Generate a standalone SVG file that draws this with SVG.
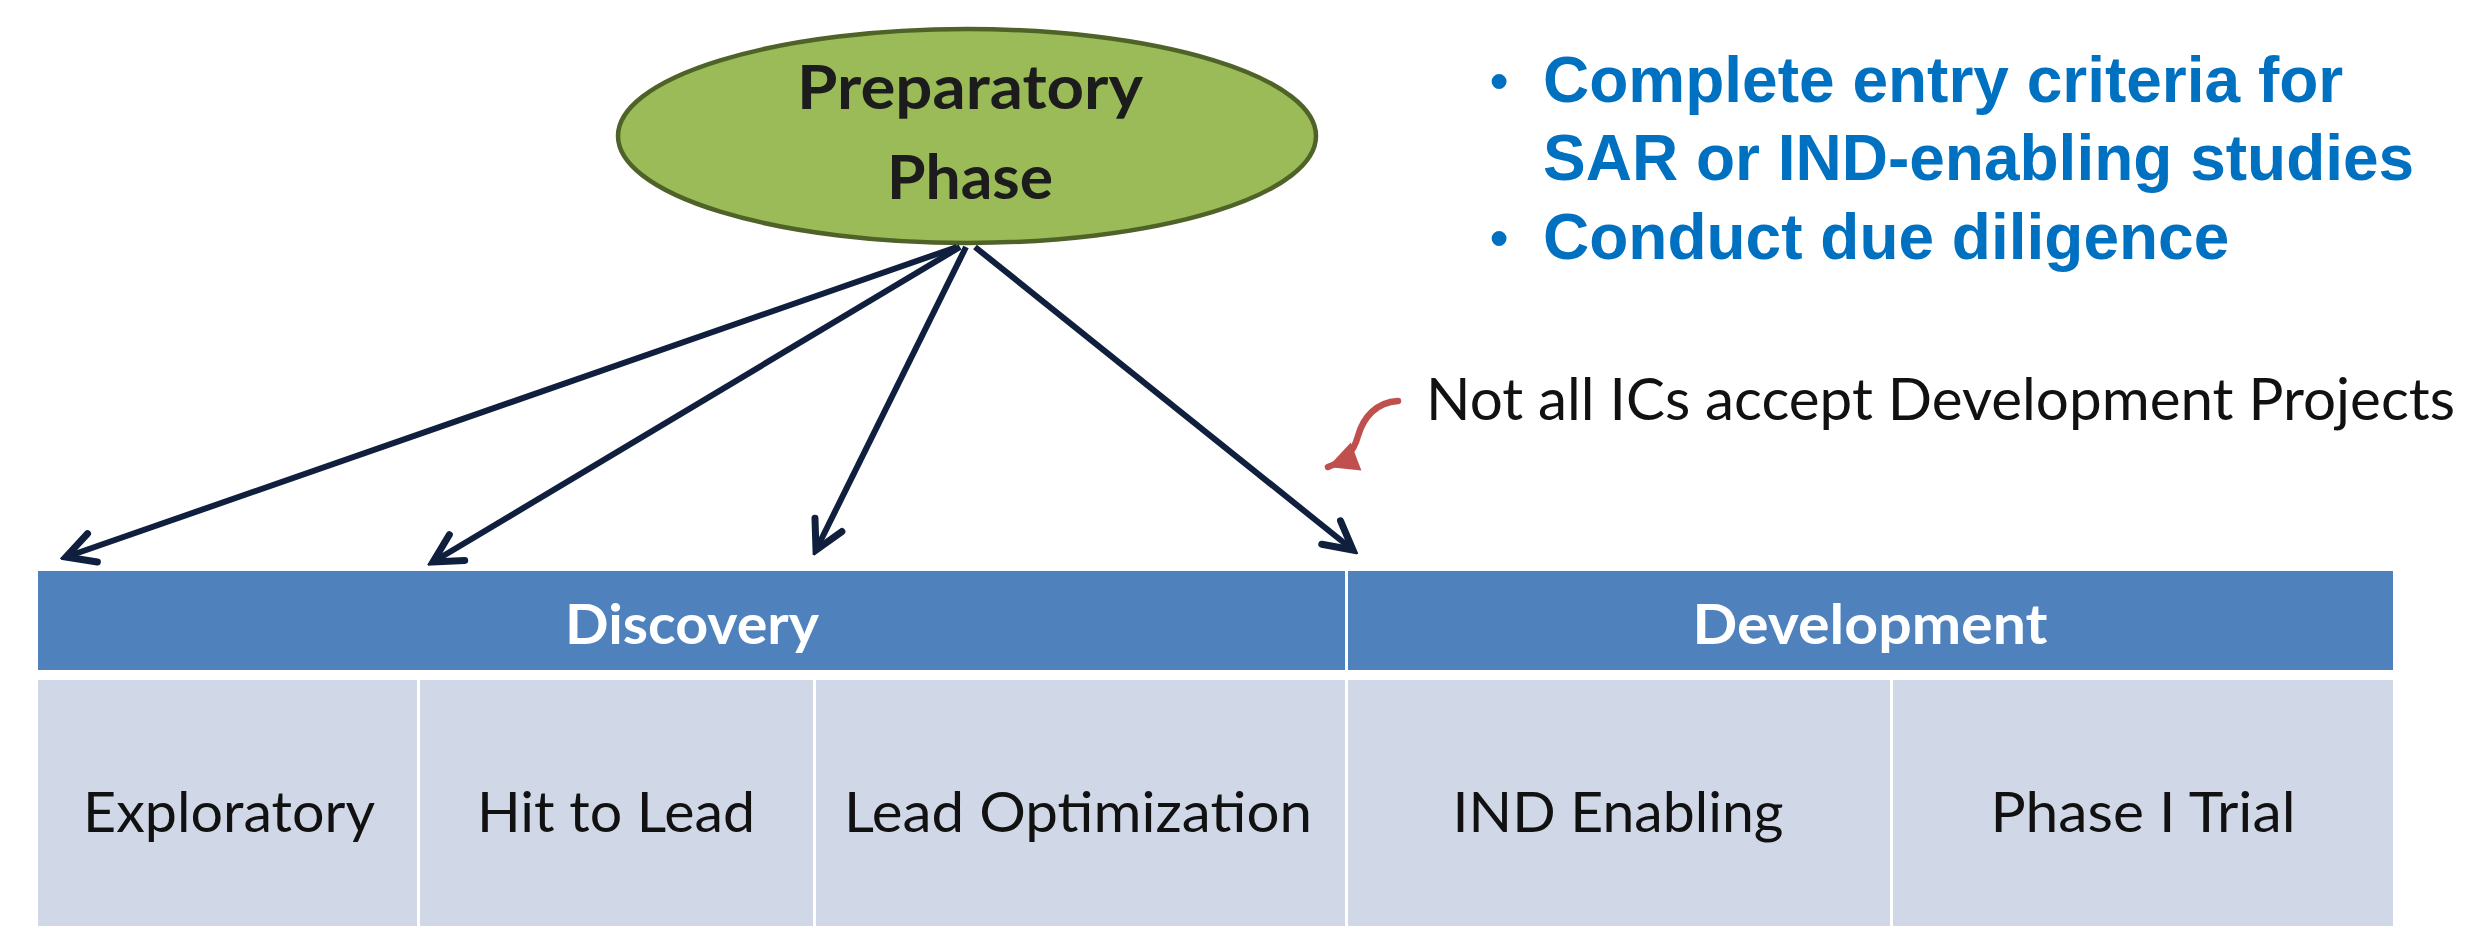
<svg xmlns="http://www.w3.org/2000/svg" width="2465" height="926" viewBox="0 0 2465 926">
  <defs>
    <marker id="openHead" markerUnits="userSpaceOnUse" markerWidth="46" markerHeight="46" viewBox="0 0 46 46" refX="40" refY="23" orient="auto">
      <path d="M12,8 L40,23 L12,38" fill="none" stroke="#0F1F3D" stroke-width="7" stroke-linejoin="miter" stroke-linecap="round"/>
    </marker>
    <marker id="redHead" markerUnits="userSpaceOnUse" markerWidth="36" markerHeight="36" viewBox="0 0 36 36" refX="32" refY="18" orient="auto">
      <path d="M2,3 L32,18 L2,33 Z" fill="#C0504D"/>
    </marker>
    <style>
      .cal { font-family: Lato, "Open Sans", "Noto Sans", sans-serif; }
      .phase { font-size: 62px; font-weight: 700; fill: #1C1C1C; text-anchor: middle; }
      .head { font-size: 55px; font-weight: 700; fill: #FFFFFF; text-anchor: middle; }
      .cell { font-size: 56px; font-weight: 400; fill: #111111; text-anchor: middle; }
      .note { font-size: 58px; font-weight: 400; fill: #111111; }
      .bullet { font-family: "Liberation Sans", Arial, sans-serif; font-size: 64px; font-weight: 700; fill: #0070C0; }
      .dot { font-family: "Liberation Sans", Arial, sans-serif; font-size: 52px; font-weight: 700; fill: #0070C0; }
      .hdr { fill: #4F81BD; }
      .body { fill: #D0D8E8; }
      .link { stroke: #0F1F3D; stroke-width: 6; fill: none; marker-end: url(#openHead); }
    </style>
  </defs>

  <rect x="0" y="0" width="2465" height="926" fill="#FFFFFF"/>

  <!-- Preparatory phase ellipse -->
  <g id="preparatory">
    <ellipse cx="967" cy="136" rx="349" ry="107" fill="#9BBB59" stroke="#4F6228" stroke-width="4.5"/>
    <text class="cal phase" x="970" y="109" textLength="346" lengthAdjust="spacingAndGlyphs">Preparatory</text>
    <text class="cal phase" x="970" y="199" textLength="166" lengthAdjust="spacingAndGlyphs">Phase</text>
  </g>

  <!-- Goals of the preparatory phase -->
  <g id="goals">
    <text class="dot" x="1490" y="99">•</text>
    <text class="bullet" x="1543" y="102">Complete entry criteria for</text>
    <text class="bullet" x="1543" y="180">SAR or IND-enabling studies</text>
    <text class="dot" x="1490" y="256">•</text>
    <text class="bullet" x="1543" y="259">Conduct due diligence</text>
  </g>

  <!-- Note about development projects -->
  <g id="note">
    <text class="cal note" x="1426" y="420" textLength="1029" lengthAdjust="spacingAndGlyphs">Not all ICs accept Development Projects</text>
    <path d="M1398,401 C1376,402 1363,418 1358,436 C1353,454 1344,461 1328,467" fill="none" stroke="#C0504D" stroke-width="6.5" stroke-linecap="round" marker-end="url(#redHead)"/>
  </g>

  <!-- Stage table: headers -->
  <g id="discovery">
    <rect class="hdr" x="38" y="571" width="1307" height="99"/>
    <text class="cal head" x="692" y="644" textLength="254" lengthAdjust="spacingAndGlyphs">Discovery</text>
  </g>
  <g id="development">
    <rect class="hdr" x="1348" y="571" width="1045" height="99"/>
    <text class="cal head" x="1870" y="644" textLength="355" lengthAdjust="spacingAndGlyphs">Development</text>
  </g>

  <!-- Stage table: stages -->
  <g id="exploratory">
    <rect class="body" x="38" y="680" width="379" height="246"/>
    <text class="cal cell" x="229" y="832" textLength="292" lengthAdjust="spacingAndGlyphs">Exploratory</text>
  </g>
  <g id="hit-to-lead">
    <rect class="body" x="420" y="680" width="393" height="246"/>
    <text class="cal cell" x="616" y="832" textLength="278" lengthAdjust="spacingAndGlyphs">Hit to Lead</text>
  </g>
  <g id="lead-optimization">
    <rect class="body" x="816" y="680" width="529" height="246"/>
    <text class="cal cell" x="1078" y="832" textLength="468" lengthAdjust="spacingAndGlyphs">Lead Optimization</text>
  </g>
  <g id="ind-enabling">
    <rect class="body" x="1348" y="680" width="542" height="246"/>
    <text class="cal cell" x="1618" y="832" textLength="331" lengthAdjust="spacingAndGlyphs">IND Enabling</text>
  </g>
  <g id="phase-i-trial">
    <rect class="body" x="1893" y="680" width="500" height="246"/>
    <text class="cal cell" x="2143" y="832" textLength="305" lengthAdjust="spacingAndGlyphs">Phase I Trial</text>
  </g>

  <!-- Connectors from the preparatory phase -->
  <g id="connectors">
    <line class="link" x1="957" y1="247" x2="66" y2="557"/>
    <line class="link" x1="960" y1="247" x2="433" y2="562"/>
    <line class="link" x1="966" y1="247" x2="816" y2="550"/>
    <line class="link" x1="975" y1="247" x2="1353" y2="550"/>
  </g>
</svg>
